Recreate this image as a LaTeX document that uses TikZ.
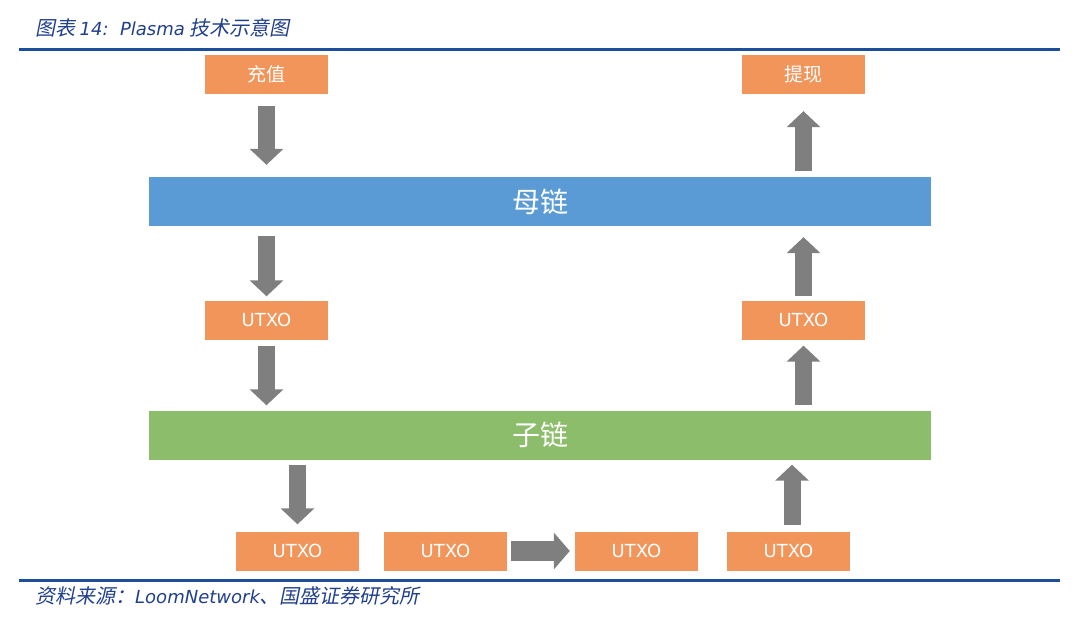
\documentclass[tikz,border=0pt]{standalone}
\usepackage{fontspec}
\setmainfont{DejaVu Sans}
\newfontfamily\cjk{Noto Sans CJK SC}
\newfontfamily\cjkit{Noto Sans CJK SC}[FakeSlant=0.2]
\newcommand{\latit}{\rmfamily\itshape\fontsize{18}{18}\selectfont}
\usetikzlibrary{arrows.meta}
\definecolor{boxorange}{HTML}{F1955A}
\definecolor{chainblue}{HTML}{5B9BD5}
\definecolor{chaingreen}{HTML}{8CBD6A}
\definecolor{arrowgray}{HTML}{7F7F7F}
\definecolor{ruleblue}{HTML}{1D4E9B}
\definecolor{titleblue}{HTML}{203F8C}
\tikzset{
  utxo/.style = {fill=boxorange, minimum width=123pt, minimum height=39pt,
    inner sep=0pt, text=white, font=\fontsize{18}{18}\selectfont},
  chain/.style = {minimum width=782pt, minimum height=49pt, inner sep=0pt,
    text=white, font=\cjk\fontsize{28}{28}\selectfont},
  blockarrow/.style = {draw=arrowgray, line width=17pt,
    -{Triangle[width=33pt,length=16pt]}},
  rule/.style = {draw=ruleblue, line width=3pt}
}
\begin{document}
\begin{tikzpicture}[x=1pt, y=-1pt]
  \useasboundingbox (0,0) rectangle (1080,624);
  % title and rules
  \node (title) [anchor=base west, inner sep=0pt, text=titleblue,
    font=\cjkit\fontsize{20}{20}\selectfont] at (35,35)
    {图表 {\latit 14:\ \ Plasma} 技术示意图};
  \coordinate (tl) at (19,49);
  \coordinate (tr) at (1060,49);
  \coordinate (bl) at (19,580);
  \coordinate (br) at (1060,580);
  \path[rule] (tl) edge (tr) (bl) edge (br);
  \node (source) [anchor=base west, inner sep=0pt, text=titleblue,
    font=\cjkit\fontsize{20}{20}\selectfont] at (35,603)
    {资料来源：{\latit LoomNetwork}、国盛证券研究所};
  % boxes
  \node (deposit) [utxo, font=\cjk\fontsize{19}{19}\selectfont] at (266.5,74.5) {充值};
  \node (withdraw) [utxo, font=\cjk\fontsize{19}{19}\selectfont] at (803.5,74.5) {提现};
  \node (parent) [chain, fill=chainblue] at (540,201.5) {母链};
  \node (utxoL) [utxo] at (266.5,320) {UTXO};
  \node (utxoR) [utxo] at (803.5,320) {UTXO};
  \node (child) [chain, fill=chaingreen] at (540,435) {子链};
  \node (utxo1) [utxo] at (297.5,551) {UTXO};
  \node (utxo2) [utxo] at (445.5,551) {UTXO};
  \node (utxo3) [utxo] at (636.5,551) {UTXO};
  \node (utxo4) [utxo] at (788.5,551) {UTXO};
  % arrows
  \draw[blockarrow, shorten <=12pt, shorten >=12pt] (deposit) -- (deposit |- parent.north);
  \draw[blockarrow, shorten <=10pt, shorten >=4pt] (deposit |- parent.south) -- (utxoL);
  \draw[blockarrow, shorten <=6pt, shorten >=5pt] (utxoL) -- (utxoL |- child.north);
  \draw[blockarrow, shorten <=5pt, shorten >=7pt] (utxo1 |- child.south) -- (utxo1);
  \draw[blockarrow, line width=20pt, -{Triangle[width=36pt,length=16pt]},
    shorten <=4pt, shorten >=5pt] (utxo2) -- (utxo3);
  \draw[blockarrow, shorten <=6pt, shorten >=5pt] ([xshift=3.5pt]utxo4.north) -- ([xshift=3.5pt]utxo4.north |- child.south);
  \draw[blockarrow, shorten <=5pt, shorten >=6pt] (utxoR |- child.north) -- (utxoR);
  \draw[blockarrow, shorten <=4pt, shorten >=11pt] (utxoR) -- (utxoR |- parent.south);
  \draw[blockarrow, shorten <=6pt, shorten >=17pt] (withdraw |- parent.north) -- (withdraw);
\end{tikzpicture}
\end{document}
